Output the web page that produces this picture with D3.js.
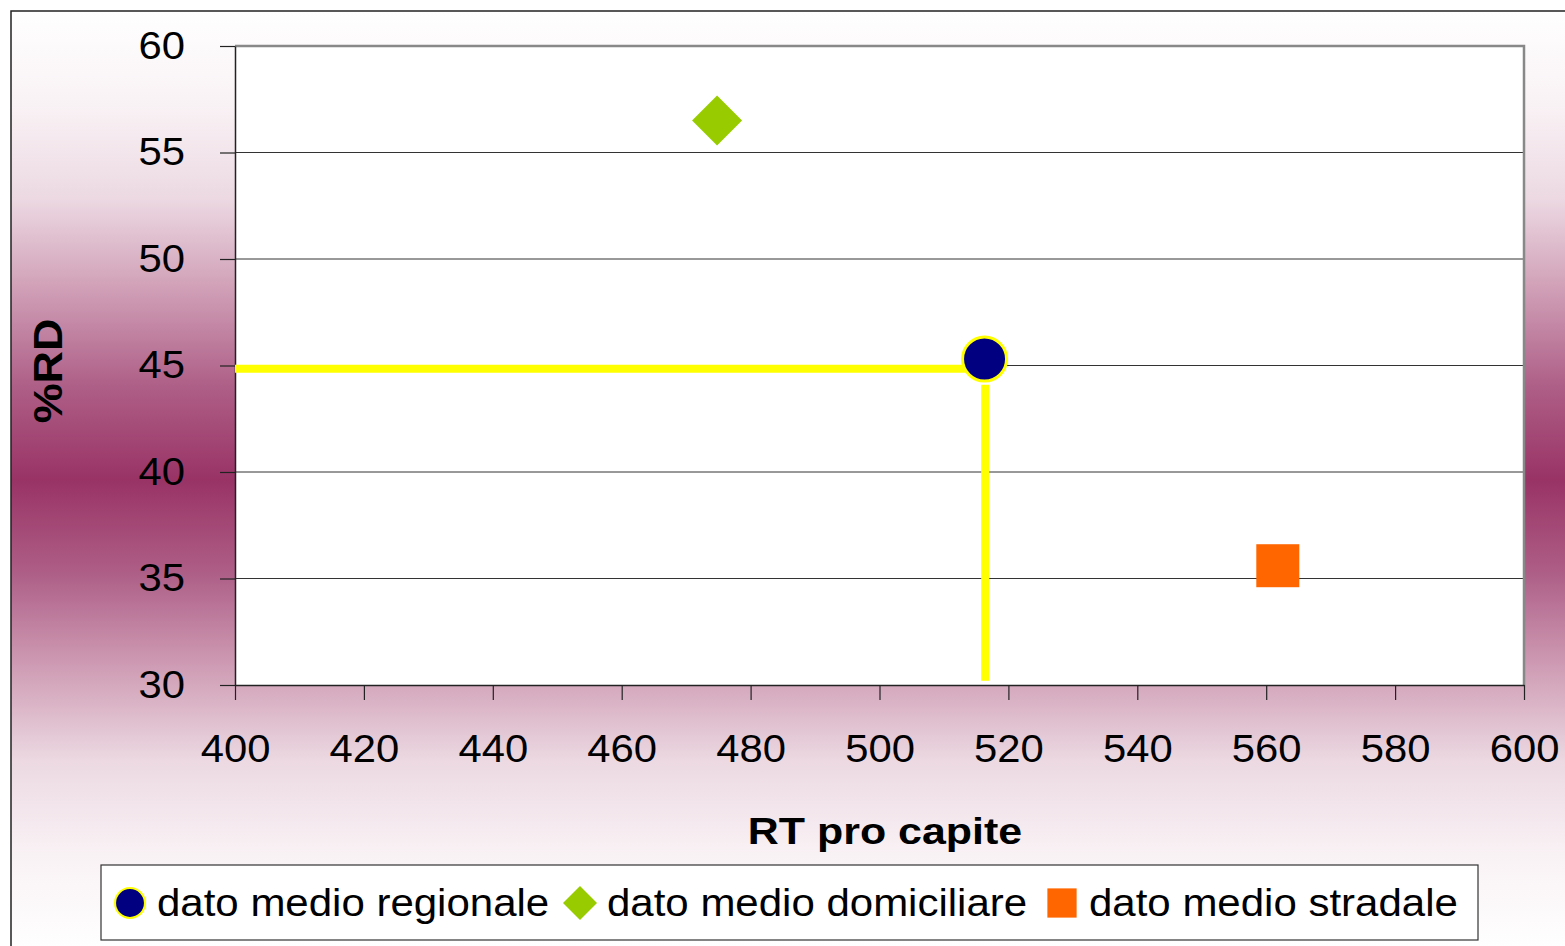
<!DOCTYPE html>
<html><head><meta charset="utf-8">
<script src="https://cdn.jsdelivr.net/npm/d3@7"></script>
<style>body{margin:0;background:#fff}svg{display:block;font-family:"Liberation Sans",Arial,sans-serif}</style>
</head><body><svg id="c" width="1565" height="946"></svg>
<script>
const seriesNames = ["dato medio regionale", "dato medio domiciliare", "dato medio stradale"];
const seriesX = [516.3, 474.8, 561.8];
const seriesY = [45.3, 56.5, 35.6];
const xTicks = [400, 420, 440, 460, 480, 500, 520, 540, 560, 580, 600];
const yTicks = [30, 35, 40, 45, 50, 55, 60];
const hLine = [[400, 44.85], [513.5, 44.85]];
const vLine = [[516.4, 30.2], [516.4, 44.1]];

const svg = d3.select("#c");
function stretch(sel, k){
  sel.each(function(){
    const len = this.getComputedTextLength();
    d3.select(this).attr("textLength", len*k).attr("lengthAdjust","spacingAndGlyphs");
  });
}
const defs = svg.append("defs");
const g = defs.append("linearGradient").attr("id","bg").attr("x1",0).attr("y1",0).attr("x2",0).attr("y2",1);
[[0,"#ffffff"],[0.1,"#f9f2f5"],[0.2,"#ecd9e2"],[0.3,"#cf9db5"],[0.4,"#ae5f87"],[0.5,"#993366"],
 [0.6,"#ae5f87"],[0.7,"#cf9db5"],[0.8,"#ecd9e2"],[0.9,"#f9f2f5"],[1,"#ffffff"]].forEach(s=>
  g.append("stop").attr("offset",s[0]).attr("stop-color",s[1]));
svg.append("rect").attr("x",11).attr("y",11).attr("width",1570).attr("height",938)
  .attr("fill","url(#bg)").attr("stroke","#222").attr("stroke-width",1.5);

const L=235,R=1524,T=46,B=685;
const x = d3.scaleLinear().domain([400,600]).range([L,R]);
const y = d3.scaleLinear().domain([30,60]).range([B,T]);

svg.append("rect").attr("x",L).attr("y",T).attr("width",R-L).attr("height",B-T).attr("fill","#fff");
svg.append("g").selectAll("line").data(yTicks.slice(1,-1)).join("line")
  .attr("x1",L).attr("x2",R).attr("y1",d=>y(d)).attr("y2",d=>y(d)).attr("stroke","#333").attr("stroke-width",1);
svg.append("path").attr("d",`M${L},${T}H${R}V${B}`).attr("fill","none").attr("stroke","#888").attr("stroke-width",2.5);

const yAxis = svg.append("g").attr("transform",`translate(${L},0)`)
  .call(d3.axisLeft(y).tickValues(yTicks).tickSize(15).tickSizeOuter(0).tickPadding(35));
const xAxis = svg.append("g").attr("transform",`translate(0,${B})`)
  .call(d3.axisBottom(x).tickValues(xTicks).tickSize(15).tickSizeOuter(0).tickPadding(35));
[yAxis,xAxis].forEach(a=>{
  a.select(".domain").attr("stroke","#222").attr("stroke-width",1.5);
  a.selectAll(".tick line").attr("stroke","#222").attr("stroke-width",1.2);
  a.selectAll("text").attr("font-size",38).attr("fill","#000").attr("font-family","Liberation Sans, Arial, sans-serif");
  stretch(a.selectAll("text"), 1.1);
});
xAxis.selectAll("text").attr("dy","0.71em");

const line = d3.line().x(d=>x(d[0])).y(d=>y(d[1]));
svg.append("path").attr("d",line(hLine)).attr("stroke","#ffff00").attr("stroke-width",8).attr("fill","none");
svg.append("path").attr("d",line(vLine)).attr("stroke","#ffff00").attr("stroke-width",8).attr("fill","none");

function drawMarker(sel, i, scale){
  if(i===0){
    sel.append("circle").attr("r",22*scale).attr("fill","#000080").attr("stroke","#ffff00").attr("stroke-width",3*scale);
  } else if(i===1){
    const s=25*scale;
    sel.append("path").attr("d",`M0,${-s}L${s},0L0,${s}L${-s},0Z`).attr("fill","#99cc00");
  } else {
    const s=21.5*scale;
    sel.append("rect").attr("x",-s).attr("y",-s).attr("width",2*s).attr("height",2*s).attr("fill","#ff6600");
  }
}
seriesNames.forEach((n,i)=>{
  const m = svg.append("g").attr("transform",`translate(${x(seriesX[i])},${y(seriesY[i])})`);
  drawMarker(m,i,1);
});

const xt = svg.append("text").attr("x",885).attr("y",844).attr("text-anchor","middle")
  .attr("font-size",37).attr("font-weight","bold").text("RT pro capite");
stretch(xt, 1.16);
const yt = svg.append("text").attr("transform","translate(62,371) rotate(-90)").attr("text-anchor","middle")
  .attr("font-size",40).attr("font-weight","bold").text("%RD");
stretch(yt, 1.12);

svg.append("rect").attr("x",101).attr("y",865).attr("width",1377).attr("height",75)
  .attr("fill","#fff").attr("stroke","#333").attr("stroke-width",1.2);
const legX = [130, 580, 1062];
const txtX = [157, 607, 1089];
seriesNames.forEach((n,i)=>{
  const m = svg.append("g").attr("transform",`translate(${legX[i]},903)`);
  drawMarker(m,i,0.68);
  const t = svg.append("text").attr("x",txtX[i]).attr("y",916).attr("font-size",38).text(n);
  stretch(t, 1.105);
});
</script></body></html>
